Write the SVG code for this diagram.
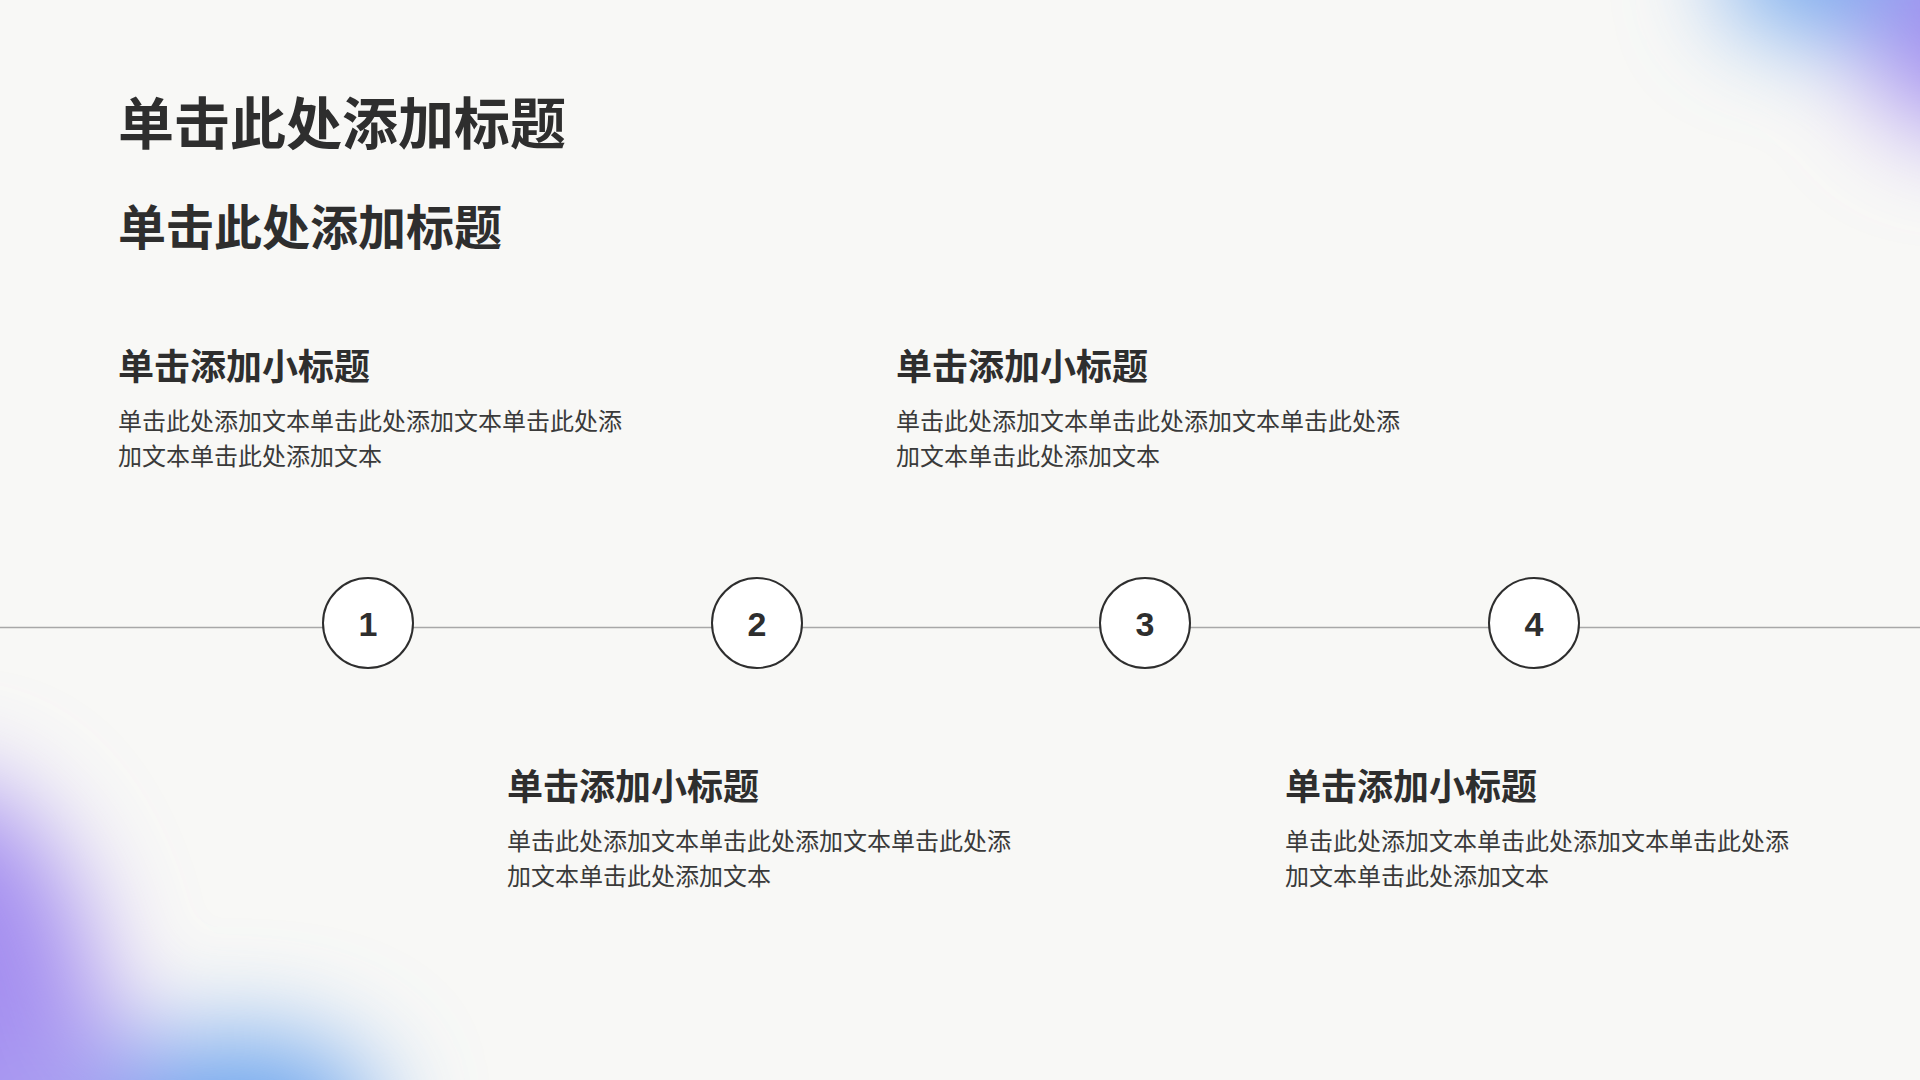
<svg xmlns="http://www.w3.org/2000/svg" width="1920" height="1080" viewBox="0 0 1920 1080">
  <defs>
    <style>
      .cjk { font-family: "Noto Sans CJK SC", "Noto Sans", sans-serif; fill: #2e2e2e; }
      .t1 { font-size: 56px; font-weight: 700; }
      .t2 { font-size: 48px; font-weight: 700; }
      .sub { font-size: 36px; font-weight: 700; }
      .body { font-size: 24px; font-weight: 400; fill: #3a3a3a; }
      .step circle { fill: #ffffff; stroke: #2e2e2e; stroke-width: 2; }
      .num { font-family: "Liberation Sans", Arial, sans-serif; font-size: 34px; font-weight: 700; fill: #2e2e2e; text-anchor: middle; }
      .axis { stroke: #a8a8a8; stroke-width: 1.5; fill: none; }
    </style>
    <filter id="blurBig" filterUnits="userSpaceOnUse" x="-400" y="-400" width="2720" height="1880">
      <feGaussianBlur stdDeviation="50"/>
    </filter>
    <clipPath id="page"><rect x="0" y="0" width="1920" height="1080"/></clipPath>
  </defs>

  <rect x="0" y="0" width="1920" height="1080" fill="#f8f8f6"/>

  <g id="glow" clip-path="url(#page)">
    <g filter="url(#blurBig)">
      <!-- top right -->
      <ellipse cx="1965" cy="10" rx="110" ry="125" fill="#a58ff0"/>
      <ellipse cx="1815" cy="-30" rx="95" ry="65" fill="#6ea6ee"/>
      <!-- bottom left -->
      <ellipse cx="-60" cy="1060" rx="165" ry="280" fill="#a48ef0"/>
      <ellipse cx="110" cy="1115" rx="150" ry="80" fill="#ab9ff2"/>
      <ellipse cx="245" cy="1120" rx="135" ry="85" fill="#6ea6ee"/>
    </g>
  </g>

  <g id="title">
    <text class="cjk t1" x="118" y="144">单击此处添加标题</text>
    <text class="cjk t2" x="118" y="245">单击此处添加标题</text>
  </g>

  <g id="connectors">
    <line class="axis" x1="0" y1="627.5" x2="1920" y2="627.5"/>
  </g>

  <g id="step1" class="step">
    <circle cx="368" cy="623" r="45"/>
    <text class="num" x="368" y="636">1</text>
  </g>
  <g id="step2" class="step">
    <circle cx="757" cy="623" r="45"/>
    <text class="num" x="757" y="636">2</text>
  </g>
  <g id="step3" class="step">
    <circle cx="1145" cy="623" r="45"/>
    <text class="num" x="1145" y="636">3</text>
  </g>
  <g id="step4" class="step">
    <circle cx="1534" cy="623" r="45"/>
    <text class="num" x="1534" y="636">4</text>
  </g>

  <g id="block1">
    <text class="cjk sub" x="118" y="380">单击添加小标题</text>
    <text class="cjk body" x="118" y="430">单击此处添加文本单击此处添加文本单击此处添</text>
    <text class="cjk body" x="118" y="465">加文本单击此处添加文本</text>
  </g>
  <g id="block2">
    <text class="cjk sub" x="896" y="380">单击添加小标题</text>
    <text class="cjk body" x="896" y="430">单击此处添加文本单击此处添加文本单击此处添</text>
    <text class="cjk body" x="896" y="465">加文本单击此处添加文本</text>
  </g>
  <g id="block3">
    <text class="cjk sub" x="507" y="800">单击添加小标题</text>
    <text class="cjk body" x="507" y="850">单击此处添加文本单击此处添加文本单击此处添</text>
    <text class="cjk body" x="507" y="885">加文本单击此处添加文本</text>
  </g>
  <g id="block4">
    <text class="cjk sub" x="1285" y="800">单击添加小标题</text>
    <text class="cjk body" x="1285" y="850">单击此处添加文本单击此处添加文本单击此处添</text>
    <text class="cjk body" x="1285" y="885">加文本单击此处添加文本</text>
  </g>
</svg>
